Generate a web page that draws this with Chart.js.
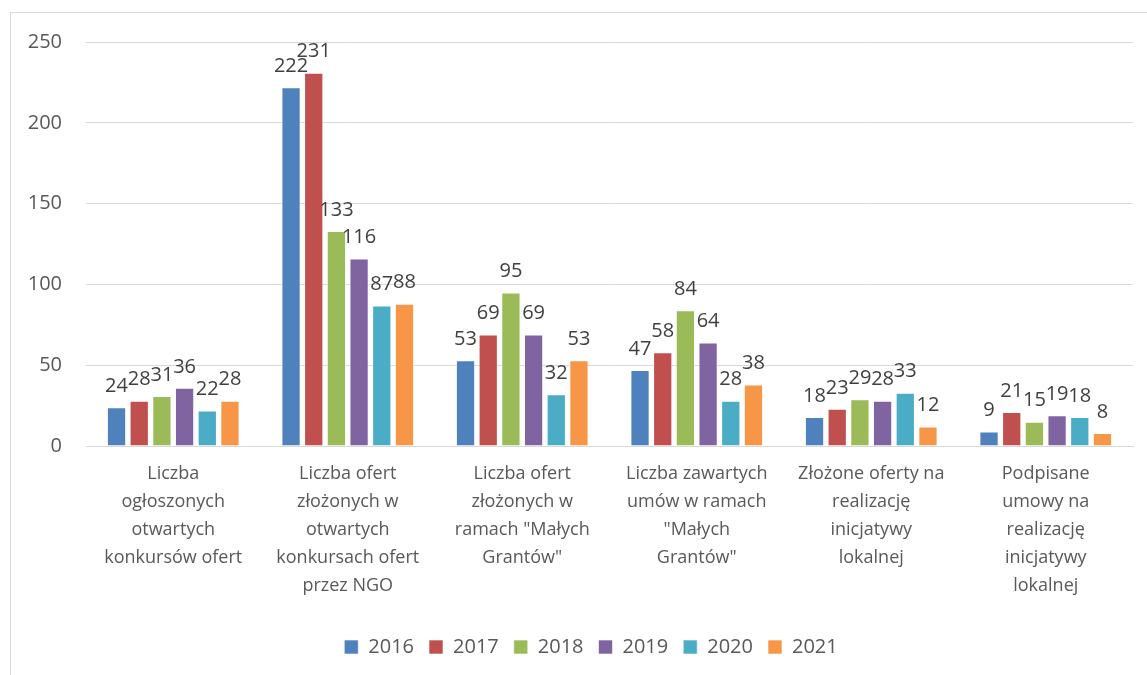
<!DOCTYPE html>
<html>
<head>
<meta charset="utf-8">
<script src="https://cdn.jsdelivr.net/npm/chart.js@4.4.1/dist/chart.umd.min.js"></script>
<style>
  html, body { margin: 0; padding: 0; background: #fff; overflow: hidden; }
  #frame { position: absolute; left: 10px; top: 12px; width: 1150px; height: 680px;
           border-left: 1px solid #d9d9d9; border-top: 1px solid #d9d9d9; }
  #wrap { position: absolute; left: 0; top: -7px; width: 1136px; height: 669px; }
</style>
</head>
<body>
<div id="frame"><div id="wrap"><canvas id="chart"></canvas></div></div>
<script>
var categories = [
  ["Liczba", "ogłoszonych", "otwartych", "konkursów ofert"],
  ["Liczba ofert", "złożonych w", "otwartych", "konkursach ofert", "przez NGO"],
  ["Liczba ofert", "złożonych w", "ramach \"Małych", "Grantów\""],
  ["Liczba zawartych", "umów w ramach", "\"Małych", "Grantów\""],
  ["Złożone oferty na", "realizację", "inicjatywy", "lokalnej"],
  ["Podpisane", "umowy na", "realizację", "inicjatywy", "lokalnej"]
];
var years = ["2016", "2017", "2018", "2019", "2020", "2021"];
var v2016 = [24, 222, 53, 47, 18, 9];
var v2017 = [28, 231, 69, 58, 23, 21];
var v2018 = [31, 133, 95, 84, 29, 15];
var v2019 = [36, 116, 69, 64, 28, 19];
var v2020 = [22, 87, 32, 28, 33, 18];
var v2021 = [28, 88, 53, 38, 12, 8];
var colors = ["#4F81BD", "#C0504D", "#9BBB59", "#8064A2", "#4BACC6", "#F79646"];

var FONT = "'Open Sans', sans-serif";
var series = [v2016, v2017, v2018, v2019, v2020, v2021];

// value labels above each bar (no datalabels plugin available offline)
var valueLabels = {
  id: 'valueLabels',
  afterDatasetsDraw: function (chart) {
    var ctx = chart.ctx;
    ctx.save();
    ctx.font = "20px " + FONT;
    ctx.fillStyle = "#404040";
    ctx.textAlign = "center";
    ctx.textBaseline = "bottom";
    chart.data.datasets.forEach(function (ds, i) {
      chart.getDatasetMeta(i).data.forEach(function (bar, j) {
        ctx.fillText(String(ds.data[j]), bar.x, bar.y - 11);
      });
    });
    ctx.restore();
  }
};

// nudge the legend a bit right, like the original
var legendShift = {
  id: 'legendShift',
  afterLayout: function (chart) {
    if (chart.legend) {
      chart.legend.left += 19;
      chart.legend.right += 19;
    }
  }
};

new Chart("chart", {
  type: 'bar',
  data: {
    labels: categories,
    datasets: years.map(function (y, i) {
      return {
        label: y,
        data: series[i],
        backgroundColor: colors[i],
        borderColor: "rgba(255,255,255,0.6)",
        borderWidth: 1,
        barPercentage: 0.85,
        categoryPercentage: 0.78
      };
    })
  },
  options: {
    responsive: true,
    maintainAspectRatio: false,
    animation: false,
    layout: { padding: { top: 4, right: 14, left: 0, bottom: 8 } },
    plugins: {
      legend: {
        position: 'bottom',
        labels: {
          boxWidth: 14, boxHeight: 14, padding: 15,
          color: "#595959",
          font: { family: FONT, size: 20 }
        }
      },
      tooltip: { enabled: false }
    },
    scales: {
      x: {
        grid: { display: false },
        border: { color: "#d9d9d9" },
        ticks: {
          color: "#595959",
          maxRotation: 0, autoSkip: false, padding: 6,
          font: { family: FONT, size: 18, lineHeight: 1.55 }
        },
        afterFit: function (scale) { scale.height = 176; }
      },
      y: {
        min: 0, max: 250,
        border: { display: false },
        grid: { color: "#d9d9d9", drawTicks: false },
        ticks: {
          stepSize: 50, padding: 24,
          color: "#595959",
          font: { family: FONT, size: 20 }
        },
        afterFit: function (scale) { scale.width = 75; }
      }
    }
  },
  plugins: [valueLabels, legendShift]
});
</script>
</body>
</html>
